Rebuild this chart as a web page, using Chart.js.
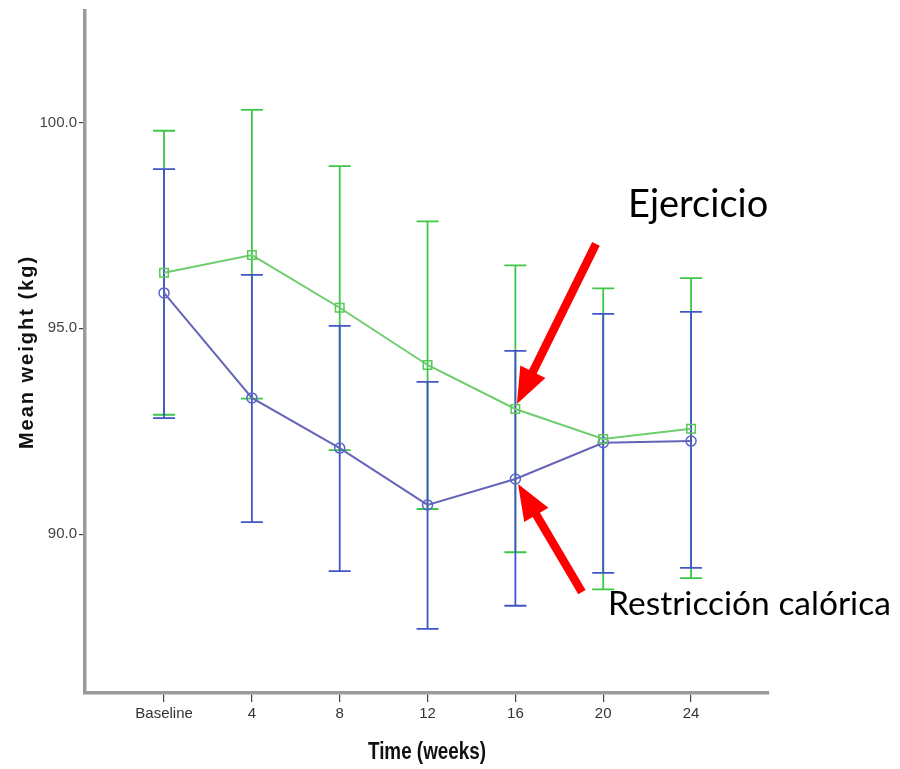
<!DOCTYPE html>
<html><head><meta charset="utf-8">
<script src="https://cdn.jsdelivr.net/npm/chart.js@4.4.0/dist/chart.umd.min.js"></script>
<style>html,body{margin:0;padding:0;background:#fff}#wrap{width:900px;height:769px}</style>
</head><body><div id="wrap"><canvas id="c" width="900" height="769"></canvas></div>
<script>
// ---- data ----
const weeks = [0, 4, 8, 12, 16, 20, 24];
const weekLabels = ['Baseline', '4', '8', '12', '16', '20', '24'];
const yTicks = [90, 95, 100];

const ejercicioMean  = [96.35, 96.78, 95.50, 94.11, 93.04, 92.31, 92.56];
const ejercicioUpper = [99.80, 100.31, 98.94, 97.60, 96.53, 95.97, 96.22];
const ejercicioLower = [92.90, 93.29, 92.04, 90.61, 89.56, 88.66, 88.93];

const restriccionMean  = [95.86, 93.31, 92.09, 90.71, 91.34, 92.22, 92.26];
const restriccionUpper = [98.87, 96.30, 95.06, 93.70, 94.45, 95.35, 95.40];
const restriccionLower = [92.82, 90.29, 89.10, 87.70, 88.26, 89.06, 89.18];

// ---- styles ----
const GREEN_BAR = 'rgb(60,200,70)';
const GREEN_LINE = 'rgb(110,205,110)';
const BLUE_BAR = 'rgb(65,85,200)';
const BLUE_LINE = 'rgb(100,100,185)';

const toPts = (ys) => weeks.map((w, i) => ({ x: w, y: ys[i] }));

const errorBarPlugin = {
  id: 'errorBars',
  beforeDatasetsDraw(chart) {
    const { ctx, scales: { x, y } } = chart;
    const sets = [
      { lo: ejercicioLower, hi: ejercicioUpper, color: GREEN_BAR },
      { lo: restriccionLower, hi: restriccionUpper, color: BLUE_BAR }
    ];
    ctx.save();
    sets.forEach(s => {
      ctx.strokeStyle = s.color;
      ctx.lineWidth = 1.8;
      weeks.forEach((w, i) => {
        const px = x.getPixelForValue(w);
        const pTop = y.getPixelForValue(s.hi[i]);
        const pBot = y.getPixelForValue(s.lo[i]);
        ctx.beginPath();
        ctx.moveTo(px, pTop); ctx.lineTo(px, pBot);
        ctx.moveTo(px - 11, pTop); ctx.lineTo(px + 11, pTop);
        ctx.moveTo(px - 11, pBot); ctx.lineTo(px + 11, pBot);
        ctx.stroke();
      });
    });
    ctx.restore();
  }
};

const annotations = {
  arrows: [
    { tail: [19.67, 97.05], tip: [16.07, 93.16] },
    { tail: [19.03, 88.59], tip: [16.12, 91.22] }
  ],
  texts: [
    { text: 'Ejercicio', at: [21.13, 97.71], size: 38 },
    { text: 'Restricción calórica', at: [20.22, 88.04], size: 33.5 }
  ]
};

const annotationPlugin = {
  id: 'annot',
  afterDraw(chart) {
    const { ctx, scales: { x, y }, chartArea } = chart;
    ctx.save();
    // arrows
    ctx.fillStyle = '#ff0000';
    ctx.strokeStyle = '#ff0000';
    annotations.arrows.forEach(a => {
      const tx = x.getPixelForValue(a.tail[0]), ty = y.getPixelForValue(a.tail[1]);
      const hx = x.getPixelForValue(a.tip[0]), hy = y.getPixelForValue(a.tip[1]);
      const dx = hx - tx, dy = hy - ty, len = Math.hypot(dx, dy);
      const ux = dx / len, uy = dy / len, nx = -uy, ny = ux;
      const headLen = 36, halfW = 14;
      const bx = hx - ux * headLen, by = hy - uy * headLen;
      ctx.lineWidth = 8.5;
      ctx.lineCap = 'butt';
      ctx.beginPath(); ctx.moveTo(tx, ty); ctx.lineTo(bx + ux * 2, by + uy * 2); ctx.stroke();
      ctx.beginPath();
      ctx.moveTo(hx, hy);
      ctx.lineTo(bx + nx * halfW, by + ny * halfW);
      ctx.lineTo(bx - nx * halfW, by - ny * halfW);
      ctx.closePath(); ctx.fill();
    });
    // texts
    ctx.fillStyle = '#000';
    ctx.textBaseline = 'alphabetic';
    ctx.textAlign = 'left';
    annotations.texts.forEach(t => {
      ctx.font = t.size + 'px Lato, "Open Sans", sans-serif';
      ctx.fillText(t.text, x.getPixelForValue(t.at[0]), y.getPixelForValue(t.at[1]));
    });
    // axis titles
    ctx.fillStyle = '#111';
    ctx.textAlign = 'center';
    ctx.textBaseline = 'middle';
    ctx.save();
    ctx.translate(27, (chartArea.top + chartArea.bottom) / 2);
    ctx.rotate(-Math.PI / 2);
    ctx.font = 'bold 20px "Liberation Sans", Arial, sans-serif';
    ctx.letterSpacing = '2px';
    ctx.fillText('Mean weight (kg)', 0, 0);
    ctx.restore();
    ctx.save();
    ctx.translate((chartArea.left + chartArea.right) / 2, 753);
    ctx.scale(0.82, 1);
    ctx.font = 'bold 23px "Liberation Sans", Arial, sans-serif';
    ctx.fillText('Time (weeks)', 0, 0);
    ctx.restore();
    ctx.restore();
  }
};

new Chart(document.getElementById('c'), {
  type: 'line',
  data: {
    datasets: [
      {
        label: 'Ejercicio',
        data: toPts(ejercicioMean),
        borderColor: GREEN_LINE,
        borderWidth: 2,
        pointStyle: 'rect',
        pointRadius: 6,
        pointBorderColor: 'rgb(90,200,90)',
        pointBackgroundColor: 'rgba(255,255,255,0)',
        pointBorderWidth: 1.5,
        tension: 0
      },
      {
        label: 'Restricción calórica',
        data: toPts(restriccionMean),
        borderColor: BLUE_LINE,
        borderWidth: 2,
        pointStyle: 'circle',
        pointRadius: 5,
        pointBorderColor: 'rgb(90,100,200)',
        pointBackgroundColor: 'rgba(255,255,255,0)',
        pointBorderWidth: 1.5,
        tension: 0
      }
    ]
  },
  options: {
    responsive: false,
    animation: false,
    layout: { padding: { top: 11, right: 131, left: 0, bottom: 0 } },
    plugins: { legend: { display: false }, tooltip: { enabled: false } },
    scales: {
      x: {
        type: 'linear',
        min: -3.6,
        max: 27.55,
        afterBuildTicks: (s) => { s.ticks = weeks.map(v => ({ value: v })); },
        afterFit: (s) => { s.height = 76; },
        ticks: {
          autoSkip: false,
          maxRotation: 0,
          padding: 3,
          color: '#333',
          font: { family: '"Liberation Sans Narrow", "Liberation Sans", Arial', size: 15 },
          callback: (v) => { const i = weeks.indexOf(v); return i >= 0 ? weekLabels[i] : ''; }
        },
        grid: { drawOnChartArea: false, drawTicks: true, tickLength: 9, color: '#444', lineWidth: 1.2 },
        border: { display: true, color: '#9a9a9a', width: 3.5 }
      },
      y: {
        type: 'linear',
        min: 86.14,
        max: 102.71,
        afterBuildTicks: (s) => { s.ticks = yTicks.map(v => ({ value: v })); },
        afterFit: (s) => { s.width = 85; },
        ticks: {
          padding: 2,
          color: '#444',
          font: { family: '"Liberation Sans Narrow", "Liberation Sans", Arial', size: 15 },
          callback: (v) => v.toFixed(1)
        },
        grid: { drawOnChartArea: false, drawTicks: true, tickLength: 6, color: '#444', lineWidth: 1.2 },
        border: { display: true, color: '#9a9a9a', width: 3.5 }
      }
    }
  },
  plugins: [errorBarPlugin, annotationPlugin]
});
</script>
</body></html>
